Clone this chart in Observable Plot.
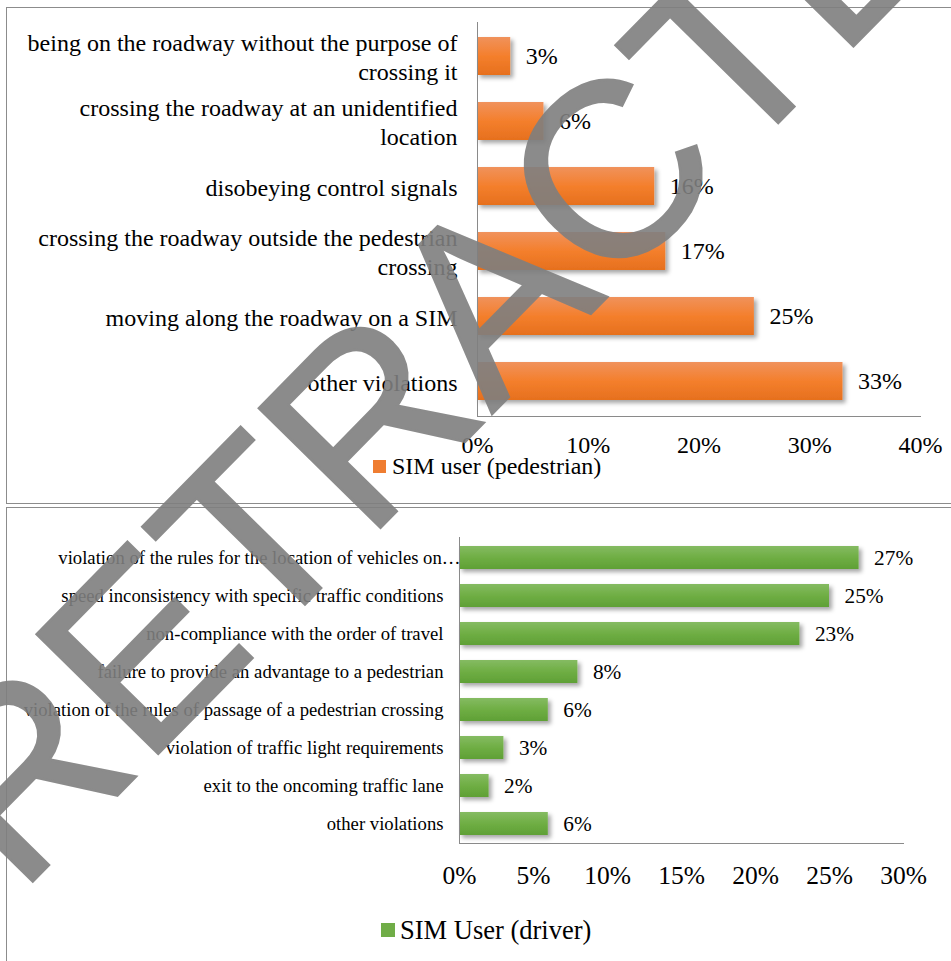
<!DOCTYPE html>
<html>
<head>
<meta charset="utf-8">
<script src="https://cdn.jsdelivr.net/npm/d3@7"></script>
<script src="https://cdn.jsdelivr.net/npm/@observablehq/plot@0.6"></script>
<style>
  body { margin: 0; background: #fff; width: 951px; height: 961px; overflow: hidden; position: relative;
         font-family: "Liberation Serif", "Times New Roman", serif; color: #000; }
  .panel { position: absolute; border: 1px solid #8c8c8c; box-sizing: border-box; }
  #p1 { left: 6px; top: 7px; width: 1000px; height: 497px; }
  #p2 { left: 6px; top: 507px; width: 1000px; height: 500px; }
  .chart { position: absolute; left: 0; }
  #c1 { top: 0; }
  #c2 { top: 507px; }
  .legend { position: absolute; display: flex; align-items: center; white-space: nowrap; line-height: 1; }
  .legend .sw { display: inline-block; }
  #wm { position: absolute; left: 0; top: 0; pointer-events: none; }
</style>
</head>
<body>
<svg width="0" height="0" style="position:absolute">
  <defs>
    <linearGradient id="gradOrange" x1="0" y1="0" x2="0" y2="1">
      <stop offset="0" stop-color="#f0925c"/>
      <stop offset="0.5" stop-color="#f47f2c"/>
      <stop offset="1" stop-color="#e6701e"/>
    </linearGradient>
    <linearGradient id="gradGreen" x1="0" y1="0" x2="0" y2="1">
      <stop offset="0" stop-color="#85bb62"/>
      <stop offset="0.5" stop-color="#6fae44"/>
      <stop offset="1" stop-color="#5fa035"/>
    </linearGradient>
    <filter id="shadow" x="-10%" y="-10%" width="130%" height="140%">
      <feDropShadow dx="3" dy="3" stdDeviation="2" flood-color="#000" flood-opacity="0.35"/>
    </filter>
  </defs>
</svg>
<div class="panel" id="p1"></div>
<div class="panel" id="p2"></div>
<div class="chart" id="c1"></div>
<div class="chart" id="c2"></div>
<div class="legend" id="l1"></div>
<div class="legend" id="l2"></div>
<script>
const FONT = '"Liberation Serif", "Times New Roman", serif';

// ---- Top chart: pedestrian ----
const pedCategories = [
  "being on the roadway without the purpose of crossing it",
  "crossing the roadway at an unidentified location",
  "disobeying control signals",
  "crossing the roadway outside the pedestrian crossing",
  "moving along the roadway on a SIM",
  "other violations"
];
const pedLabels = [
  "being on the roadway without the purpose of\ncrossing it",
  "crossing the roadway at an unidentified\nlocation",
  "disobeying control signals",
  "crossing the roadway outside the pedestrian\ncrossing",
  "moving along the roadway on a SIM",
  "other violations"
];
const pedValues = [0.03, 0.06, 0.16, 0.17, 0.25, 0.33];
const pedTicks = [0, 0.1, 0.2, 0.3, 0.4];
const pedSeries = "SIM user (pedestrian)";
const pedColor = "#ef7d31";

// ---- Bottom chart: driver ----
const drvCategories = [
  "violation of the rules for the location of vehicles on…",
  "speed inconsistency with specific traffic conditions",
  "non-compliance with the order of travel",
  "failure to provide an advantage to a pedestrian",
  "violation of the rules of passage of a pedestrian crossing",
  "violation of traffic light requirements",
  "exit to the oncoming traffic lane",
  "other violations"
];
const drvValues = [0.27, 0.25, 0.23, 0.08, 0.06, 0.03, 0.02, 0.06];
const drvTicks = [0, 0.05, 0.10, 0.15, 0.20, 0.25, 0.30];
const drvSeries = "SIM User (driver)";
const drvColor = "#70ad47";

const watermark = "RETRACTED";

const pct = d3.format(".0%");

const ped = pedCategories.map((c, i) => ({cat: c, value: pedValues[i]}));
const pedLabelOf = new Map(pedCategories.map((c, i) => [c, pedLabels[i]]));

const plot1 = Plot.plot({
  width: 951, height: 503,
  marginLeft: 477, marginRight: 31, marginTop: 22, marginBottom: 87,
  style: {fontFamily: FONT, fontSize: "24px", color: "#000", background: "transparent", overflow: "visible"},
  x: {domain: [0, 0.4], label: null},
  y: {domain: pedCategories, paddingInner: 0.41, paddingOuter: 0.2, label: null},
  marks: [
    Plot.barX(ped, {x: "value", y: "cat", fill: "url(#gradOrange)"}),
    Plot.text(ped, {x: "value", y: "cat", text: d => pct(d.value), textAnchor: "start", dx: 15, fontSize: 24}),
    Plot.axisX({ticks: pedTicks, tickFormat: pct, tickSize: 0, tickPadding: 19, fontSize: 24}),
    Plot.axisY({tickSize: 0, tickPadding: 20, tickFormat: c => pedLabelOf.get(c), fontSize: 24, lineHeight: 1.17}),
    Plot.ruleX([0], {stroke: "#8a8a8a"}),
    Plot.frame({anchor: "bottom", stroke: "#8a8a8a"})
  ]
});
document.getElementById("c1").appendChild(plot1);

const drv = drvCategories.map((c, i) => ({cat: c, value: drvValues[i]}));
const plot2 = Plot.plot({
  width: 951, height: 454,
  marginLeft: 459, marginRight: 48, marginTop: 30, marginBottom: 118,
  style: {fontFamily: FONT, fontSize: "18.7px", color: "#000", background: "transparent", overflow: "visible"},
  x: {domain: [0, 0.3], label: null},
  y: {domain: drvCategories, paddingInner: 0.4, paddingOuter: 0.2, label: null},
  marks: [
    Plot.barX(drv, {x: "value", y: "cat", fill: "url(#gradGreen)"}),
    Plot.text(drv, {x: "value", y: "cat", text: d => pct(d.value), textAnchor: "start", dx: 15, fontSize: 21.3}),
    Plot.axisX({ticks: drvTicks, tickFormat: pct, tickSize: 0, tickPadding: 22, fontSize: 25.5}),
    Plot.axisY(drvCategories.slice(1), {tickSize: 0, tickPadding: 16, fontSize: 18.7}),
    Plot.axisY([drvCategories[0]], {tickSize: 0, tickPadding: -1, fontSize: 18.7}),
    Plot.ruleX([0], {stroke: "#8a8a8a"}),
    Plot.frame({anchor: "bottom", stroke: "#8a8a8a"})
  ]
});
document.getElementById("c2").appendChild(plot2);

// bar shadows
for (const p of [plot1, plot2]) {
  const g = p.querySelector('g[aria-label="bar"]');
  if (g) g.setAttribute("filter", "url(#shadow)");
}

// legends
function makeLegend(el, label, color, left, top, sw, fs, gap) {
  el.style.left = left + "px";
  el.style.top = top + "px";
  el.style.fontSize = fs + "px";
  el.style.gap = gap + "px";
  const s = document.createElement("span");
  s.className = "sw";
  s.style.width = sw + "px";
  s.style.height = sw + "px";
  s.style.background = color;
  const t = document.createElement("span");
  t.textContent = label;
  el.appendChild(s);
  el.appendChild(t);
}
makeLegend(document.getElementById("l1"), pedSeries, pedColor, 373, 454, 13, 24, 6);
makeLegend(document.getElementById("l2"), drvSeries, drvColor, 381, 917, 14, 26.5, 5);

// watermark overlay
const NS = "http://www.w3.org/2000/svg";
const wm = document.createElementNS(NS, "svg");
wm.setAttribute("id", "wm");
wm.setAttribute("width", 951);
wm.setAttribute("height", 961);
const wg = document.createElementNS(NS, "g");
wg.setAttribute("opacity", 0.9);
const txt = document.createElementNS(NS, "text");
txt.setAttribute("transform", "translate(486,293) rotate(-45.5)");
txt.setAttribute("text-anchor", "middle");
txt.setAttribute("dy", "0.36em");
txt.setAttribute("font-family", '"Liberation Sans", Arial, sans-serif');
txt.setAttribute("font-size", 248);
txt.setAttribute("fill", "#7f7f7f");
txt.setAttribute("stroke", "#7f7f7f");
txt.setAttribute("stroke-width", 2.5);
txt.textContent = watermark;
wg.appendChild(txt);
wm.appendChild(wg);
document.body.appendChild(wm);
</script>
</body>
</html>
